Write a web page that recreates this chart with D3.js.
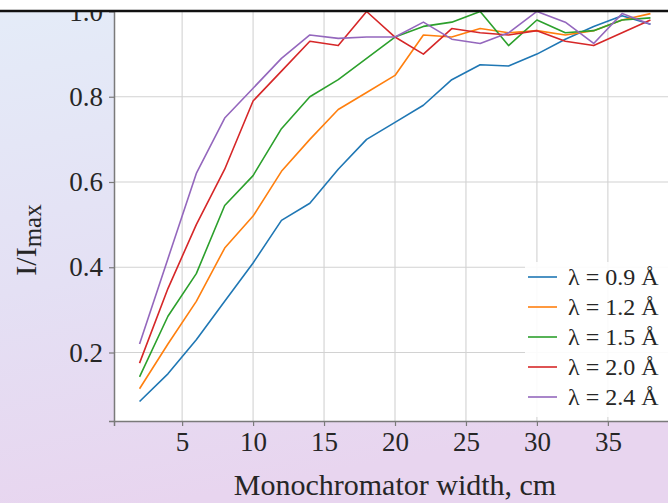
<!DOCTYPE html>
<html>
<head>
<meta charset="utf-8">
<script src="https://cdn.jsdelivr.net/npm/d3@7"></script>
<style>
  html, body { margin: 0; padding: 0; background: #fff; }
  svg { display: block; }
  text { font-family: "Liberation Serif", "Times New Roman", serif; fill: #262626; }
</style>
</head>
<body>
<svg id="chart" width="668" height="503"></svg>
<script>
// Monochromator width (cm)
const widths = [2, 4, 6, 8, 10, 12, 14, 16, 18, 20, 22, 24, 26, 28, 30, 32, 34, 36, 38];

// Normalised intensity I/Imax for each wavelength
const series09 = [0.085, 0.15, 0.23, 0.32, 0.41, 0.51, 0.55, 0.63, 0.70, 0.74, 0.78, 0.84, 0.875, 0.872, 0.90, 0.935, 0.965, 0.99, 0.97];
const series12 = [0.115, 0.22, 0.32, 0.445, 0.52, 0.625, 0.70, 0.77, 0.81, 0.85, 0.945, 0.94, 0.96, 0.95, 0.955, 0.945, 0.955, 0.98, 0.995];
const series15 = [0.143, 0.285, 0.385, 0.545, 0.615, 0.725, 0.80, 0.84, 0.89, 0.94, 0.965, 0.975, 1.0, 0.92, 0.98, 0.95, 0.955, 0.98, 0.985];
const series20 = [0.175, 0.35, 0.50, 0.63, 0.79, 0.86, 0.93, 0.92, 1.0, 0.94, 0.90, 0.96, 0.95, 0.945, 0.955, 0.93, 0.92, 0.95, 0.98];
const series24 = [0.22, 0.42, 0.62, 0.75, 0.82, 0.89, 0.945, 0.937, 0.94, 0.94, 0.975, 0.935, 0.925, 0.95, 1.0, 0.975, 0.925, 0.995, 0.97];

const seriesLabels = ["λ = 0.9 Å", "λ = 1.2 Å", "λ = 1.5 Å", "λ = 2.0 Å", "λ = 2.4 Å"];
const seriesColors = ["#1f77b4", "#ff7f0e", "#2ca02c", "#d62728", "#9467bd"];
const xTicks = [5, 10, 15, 20, 25, 30, 35];
const yTicks = [0.2, 0.4, 0.6, 0.8, 1.0];

const allSeries = [series09, series12, series15, series20, series24];

const svg = d3.select("#chart");
const W = 668, H = 503;

// Page background gradient
const defs = svg.append("defs");
const grad = defs.append("linearGradient").attr("id", "bg").attr("x1", 0).attr("y1", 0).attr("x2", 0.25).attr("y2", 1);
grad.append("stop").attr("offset", "0%").attr("stop-color", "#e4ecf8");
grad.append("stop").attr("offset", "55%").attr("stop-color", "#e4e0f4");
grad.append("stop").attr("offset", "100%").attr("stop-color", "#e8d5ef");
svg.append("rect").attr("width", W).attr("height", H).attr("fill", "url(#bg)");

// Scales
const x = d3.scaleLinear().domain([0.2, 39.8]).range([114, 676]);
const y = d3.scaleLinear().domain([0.0393, 1.0457]).range([421, -8]);

const plotLeft = x.range()[0], plotRight = x.range()[1];
const plotTop = y.range()[1], plotBottom = y.range()[0];

defs.append("clipPath").attr("id", "plotclip")
  .append("rect").attr("x", plotLeft).attr("y", plotTop)
  .attr("width", plotRight - plotLeft).attr("height", plotBottom - plotTop);

// Plot area
svg.append("rect").attr("x", plotLeft).attr("y", plotTop)
  .attr("width", plotRight - plotLeft).attr("height", plotBottom - plotTop)
  .attr("fill", "#ffffff");

// Grid
const grid = svg.append("g").attr("clip-path", "url(#plotclip)");
grid.selectAll(".gx").data(xTicks).join("line")
  .attr("x1", d => x(d)).attr("x2", d => x(d))
  .attr("y1", plotTop).attr("y2", plotBottom)
  .attr("stroke", "#d2d2d2").attr("stroke-width", 1.1);
grid.selectAll(".gy").data(yTicks).join("line")
  .attr("y1", d => y(d)).attr("y2", d => y(d))
  .attr("x1", plotLeft).attr("x2", plotRight)
  .attr("stroke", "#d2d2d2").attr("stroke-width", 1.1);

// Lines
const line = d3.line().x((d, i) => x(widths[i])).y(d => y(d));
const lines = svg.append("g").attr("clip-path", "url(#plotclip)");
allSeries.forEach((s, k) => {
  lines.append("path").datum(s)
    .attr("d", line)
    .attr("fill", "none")
    .attr("stroke", seriesColors[k])
    .attr("stroke-width", 1.6)
    .attr("stroke-linejoin", "round");
});

// Axes
const xAxis = d3.axisBottom(x).tickValues(xTicks).tickSize(5).tickPadding(6).tickFormat(d3.format("d"));
const yAxis = d3.axisLeft(y).tickValues(yTicks).tickSize(5).tickPadding(6).tickFormat(d3.format(".1f"));

const gx = svg.append("g").attr("transform", `translate(0,${plotBottom})`).call(xAxis);
const gy = svg.append("g").attr("transform", `translate(${plotLeft},0)`).call(yAxis);
[gx, gy].forEach(g => {
  g.select(".domain").attr("stroke", "#7a7a7a").attr("stroke-width", 1.5);
  g.selectAll(".tick line").attr("stroke", "#7a7a7a").attr("stroke-width", 1.2);
  g.selectAll(".tick text").attr("font-family", "Liberation Serif, serif").attr("font-size", 27).attr("fill", "#262626");
});

// Axis titles
svg.append("text")
  .attr("x", 395).attr("y", 495)
  .attr("text-anchor", "middle").attr("font-size", 30)
  .text("Monochromator width, cm");

const ylab = svg.append("text")
  .attr("transform", "translate(36,240) rotate(-90)")
  .attr("text-anchor", "middle").attr("font-size", 30);
ylab.append("tspan").text("I/I");
ylab.append("tspan").attr("font-size", 25).attr("dy", 5).text("max");

// Legend
const legend = svg.append("g");
legend.append("rect").attr("x", 525).attr("y", 262).attr("width", 160).attr("height", 155)
  .attr("fill", "#ffffff").attr("fill-opacity", 0.9);
seriesLabels.forEach((lab, k) => {
  const ly = 277 + k * 30;
  legend.append("line").attr("x1", 528).attr("x2", 557).attr("y1", ly).attr("y2", ly)
    .attr("stroke", seriesColors[k]).attr("stroke-width", 1.6);
  legend.append("text").attr("x", 568).attr("y", ly).attr("dy", "0.35em")
    .attr("font-size", 24).text(lab);
});

// Top border strip
svg.append("rect").attr("x", 0).attr("y", 0).attr("width", W).attr("height", 10).attr("fill", "#ffffff");
svg.append("line").attr("x1", 0).attr("x2", W).attr("y1", 11).attr("y2", 11)
  .attr("stroke", "#111").attr("stroke-width", 2.5);
</script>
</body>
</html>
